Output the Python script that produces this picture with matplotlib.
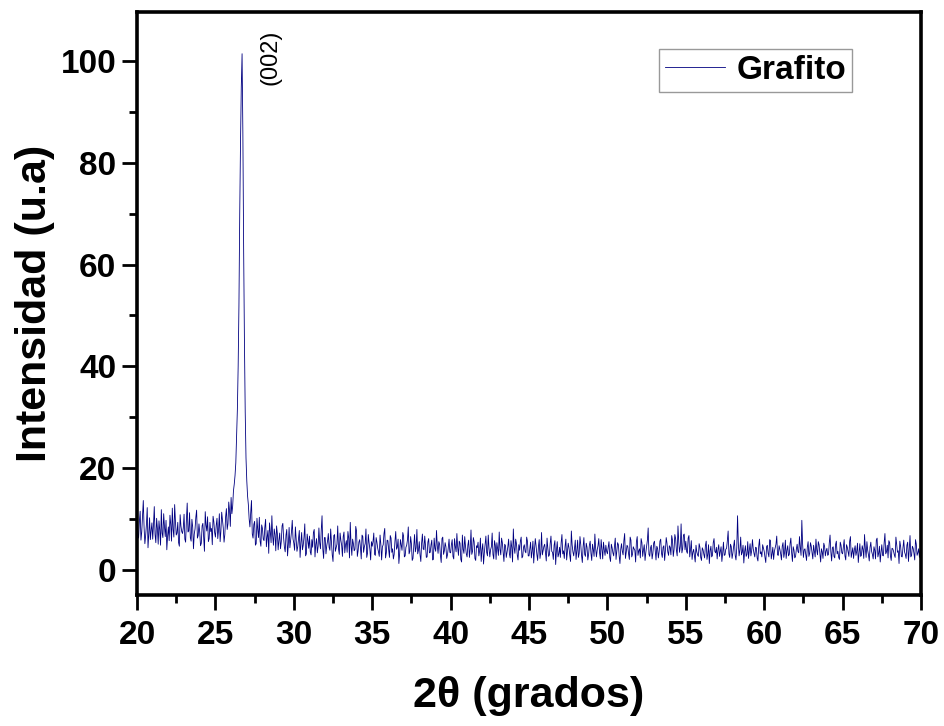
import numpy as np
import matplotlib
matplotlib.use("Agg")
import matplotlib.pyplot as plt
from matplotlib.ticker import MultipleLocator

plt.rcParams['font.family'] = ['Liberation Sans', 'DejaVu Sans']

# Diffractogram of graphite, scanned with a 0.05 deg step in 2-theta.
# "a" lists hold the readings at whole tenths (20.0, 20.1, ...),
# "b" lists the readings in between (20.05, 20.15, ...).
two_theta_start = 20.0
two_theta_step = 0.05

a_20_25 = [9.8, 6.2, 11.5, 7.4, 13.6, 5.1, 8.9, 4.3, 10.2, 7.7,
           6.0, 12.4, 5.3, 8.1, 9.6, 4.8, 7.2, 11.0, 6.5, 3.9,
           8.4, 10.7, 5.6, 7.9, 12.8, 6.8, 9.3, 4.6, 8.6, 7.1,
           10.9, 5.4, 13.1, 7.6, 6.3, 9.9, 4.1, 8.0, 11.7, 6.7,
           7.3, 5.2, 9.1, 3.6, 8.8, 10.4, 6.1, 7.5, 4.9, 9.4]
a_25_30 = [6.4, 10.1, 7.8, 5.5, 11.3, 8.2, 6.9, 12.0, 9.0, 11.6,
           14.2, 12.5, 16.8, 21.0, 31.5, 52.0, 84.0, 101.5, 63.0, 31.0,
           17.5, 12.8, 8.4, 13.6, 6.2, 9.5, 5.1, 7.8, 10.3, 4.6,
           8.1, 5.7, 9.9, 6.4, 3.2, 7.5, 10.6, 4.8, 6.9, 8.6,
           3.9, 7.2, 5.5, 9.1, 4.4, 6.8, 2.7, 8.3, 5.9, 9.7]
a_30_35 = [5.2, 8.4, 3.6, 6.1, 2.4, 7.3, 4.8, 9.0, 3.1, 5.7,
           6.6, 2.9, 4.4, 7.9, 5.0, 3.3, 8.2, 4.1, 10.6, 2.2,
           6.3, 4.7, 7.1, 3.8, 5.5, 1.6, 6.9, 4.3, 8.6, 3.0,
           5.8, 2.6, 7.4, 4.9, 3.4, 6.2, 9.3, 2.8, 5.1, 4.0,
           7.6, 3.7, 5.9, 2.1, 6.5, 4.5, 8.0, 3.2, 5.3, 1.9]
a_35_40 = [4.6, 7.2, 2.8, 5.4, 3.5, 6.8, 1.9, 4.9, 8.1, 3.3,
           5.7, 2.4, 6.2, 4.1, 3.0, 7.5, 4.4, 1.2, 5.9, 3.8,
           6.6, 2.7, 4.8, 8.4, 3.6, 5.1, 2.2, 6.9, 4.3, 3.1,
           5.5, 1.6, 7.0, 3.9, 4.7, 2.5, 6.1, 3.4, 5.8, 2.0,
           4.2, 7.7, 3.2, 5.0, 1.4, 6.4, 3.7, 4.5, 2.9, 6.0]
a_40_45 = [3.3, 5.9, 2.1, 4.6, 7.1, 2.8, 5.2, 1.5, 4.0, 6.5,
           3.1, 4.8, 2.4, 7.8, 3.6, 5.5, 1.8, 4.3, 2.7, 6.2,
           3.9, 1.1, 5.0, 3.4, 6.8, 2.5, 4.5, 3.0, 5.7, 2.0,
           4.1, 7.4, 2.9, 5.3, 1.6, 4.7, 3.5, 6.0, 2.3, 4.4,
           8.0, 3.2, 5.1, 1.9, 3.8, 6.4, 2.6, 4.9, 3.3, 5.6]
a_45_50 = [2.7, 5.4, 3.6, 1.3, 6.1, 3.0, 4.5, 2.2, 7.3, 3.8,
           5.0, 1.7, 4.2, 2.9, 6.6, 3.4, 4.8, 1.0, 5.5, 3.1,
           2.4, 6.9, 3.7, 4.6, 1.9, 5.2, 2.8, 7.6, 3.5, 4.1,
           2.0, 5.8, 3.2, 4.9, 1.4, 6.3, 2.6, 4.4, 3.0, 5.6,
           1.8, 4.0, 7.0, 2.5, 4.7, 3.3, 5.9, 2.1, 3.9, 4.8]
a_50_55 = [3.1, 5.5, 1.6, 4.3, 2.7, 6.2, 3.6, 4.9, 1.2, 5.1,
           2.9, 7.1, 3.4, 4.5, 2.0, 5.8, 3.0, 4.1, 1.5, 6.5,
           3.7, 2.3, 5.3, 3.9, 1.8, 4.6, 8.2, 2.6, 4.8, 3.2,
           5.6, 1.9, 4.2, 3.5, 6.0, 2.4, 4.7, 3.8, 5.2, 2.8,
           4.4, 6.7, 2.6, 6.9, 3.8, 8.6, 3.4, 9.0, 4.1, 7.0]
a_55_60 = [5.6, 3.2, 6.7, 3.9, 2.0, 4.0, 1.5, 3.5, 2.6, 4.4,
           1.8, 3.9, 2.3, 5.6, 3.0, 1.2, 4.6, 2.8, 6.1, 3.3,
           2.1, 4.9, 3.6, 1.6, 5.4, 2.9, 4.2, 7.6, 2.4, 4.5,
           3.2, 5.8, 1.9, 10.6, 2.7, 6.4, 3.4, 1.3, 4.7, 3.0,
           2.2, 5.1, 3.7, 4.1, 2.5, 4.3, 1.7, 6.0, 3.5, 4.9]
a_60_65 = [3.6, 1.4, 4.8, 2.5, 5.7, 3.1, 2.0, 4.3, 6.6, 2.8,
           4.0, 1.9, 5.3, 3.4, 2.2, 4.7, 3.0, 6.2, 1.6, 3.8,
           2.6, 5.0, 3.3, 4.4, 9.7, 2.4, 4.1, 1.8, 5.5, 3.2,
           4.6, 2.1, 3.7, 6.0, 2.9, 4.9, 1.5, 3.5, 5.2, 2.7,
           4.2, 3.0, 6.8, 1.7, 4.5, 2.3, 5.6, 3.6, 2.0, 4.8]
a_65_70 = [3.1, 5.9, 1.9, 4.4, 2.6, 6.5, 3.3, 2.2, 4.7, 3.6,
           1.4, 5.1, 2.8, 4.0, 6.9, 2.4, 3.8, 1.7, 5.4, 3.0,
           4.5, 2.1, 6.2, 3.2, 1.5, 4.9, 2.7, 7.1, 3.5, 2.3,
           5.3, 1.8, 4.1, 2.9, 6.4, 3.4, 1.2, 4.6, 2.5, 5.8,
           3.0, 4.8, 1.6, 6.7, 2.8, 4.2, 1.9, 5.0, 3.3, 2.4,
           3.7]

b_20_25 = [7.1, 9.4, 5.8, 10.6, 8.3, 6.7, 12.2, 7.0, 5.9, 9.2,
           8.8, 6.9, 10.1, 5.0, 7.8, 11.8, 6.3, 8.5, 9.7, 6.6,
           5.7, 8.9, 12.1, 6.4, 9.5, 7.2, 5.3, 10.8, 7.5, 8.2,
           6.0, 9.8, 7.4, 11.2, 5.6, 8.4, 7.0, 10.3, 6.2, 9.0,
           4.7, 8.6, 6.5, 11.4, 7.6, 5.5, 9.3, 8.1, 10.5, 7.3]
b_25_30 = [8.7, 6.1, 11.0, 7.6, 9.8, 5.4, 10.4, 7.9, 13.3, 8.5,
           11.0, 15.5, 18.5, 26.0, 40.0, 70.0, 95.0, 86.0, 45.0, 22.0,
           14.5, 10.0, 11.2, 7.0, 8.9, 4.8, 10.1, 6.3, 5.6, 8.8,
           6.0, 8.3, 4.5, 7.7, 9.2, 5.3, 6.6, 8.0, 3.7, 7.1,
           5.8, 4.1, 8.6, 6.2, 3.5, 7.9, 5.0, 4.3, 7.4, 6.0]
b_30_35 = [3.8, 6.0, 4.5, 7.7, 5.3, 3.9, 6.4, 2.7, 7.0, 4.2,
           3.5, 5.9, 7.3, 2.5, 6.1, 4.6, 5.2, 7.8, 4.0, 6.3,
           3.1, 5.6, 4.4, 8.0, 2.9, 6.7, 3.6, 5.0, 4.1, 7.2,
           4.8, 6.5, 3.3, 5.7, 7.5, 2.3, 4.9, 6.0, 3.7, 8.5,
           2.6, 5.4, 4.3, 6.8, 3.4, 5.1, 2.4, 6.9, 4.0, 5.5]
b_35_40 = [5.5, 3.0, 6.3, 4.2, 2.6, 5.0, 4.5, 7.1, 2.3, 5.8,
           3.9, 6.7, 3.4, 2.1, 5.6, 4.0, 6.0, 3.2, 4.8, 7.3,
           2.5, 4.4, 5.9, 3.1, 6.5, 1.8, 4.6, 3.5, 7.9, 3.8,
           2.9, 5.2, 4.1, 6.6, 2.4, 5.4, 3.3, 4.9, 1.9, 6.2,
           3.6, 4.7, 5.5, 2.8, 6.1, 3.0, 5.3, 2.2, 4.3, 3.4]
b_40_45 = [4.9, 2.6, 6.1, 3.5, 4.4, 5.6, 2.0, 6.8, 3.2, 4.6,
           2.5, 5.8, 4.1, 3.0, 6.3, 2.2, 4.7, 5.4, 3.7, 1.6,
           5.1, 3.3, 6.6, 2.7, 4.2, 3.9, 7.2, 2.1, 4.8, 5.3,
           2.8, 4.0, 6.2, 3.4, 5.0, 2.4, 4.5, 3.1, 5.7, 1.5,
           4.3, 6.0, 2.9, 4.9, 5.6, 2.3, 4.4, 3.6, 6.4, 2.7]
b_45_50 = [4.1, 2.3, 5.6, 3.9, 4.7, 1.8, 5.9, 3.3, 2.9, 4.6,
           3.4, 6.2, 2.6, 5.1, 3.6, 2.0, 5.7, 3.8, 2.5, 4.4,
           5.3, 3.1, 2.2, 6.0, 3.5, 4.3, 1.6, 4.9, 2.7, 5.8,
           3.7, 2.4, 6.5, 2.8, 4.5, 3.0, 5.2, 1.9, 4.8, 3.2,
           5.0, 2.6, 4.2, 3.9, 6.1, 2.1, 4.0, 5.4, 2.8, 3.6]
b_50_55 = [4.4, 2.4, 5.0, 3.3, 4.6, 2.0, 5.3, 2.7, 4.0, 3.6,
           5.7, 2.2, 4.8, 3.1, 6.4, 2.5, 4.5, 3.8, 5.5, 2.8,
           4.1, 6.1, 2.6, 4.9, 3.4, 5.8, 3.0, 4.3, 2.1, 5.2,
           3.7, 4.6, 2.3, 5.6, 3.2, 4.4, 1.8, 6.3, 3.5, 4.7,
           2.9, 5.8, 3.9, 6.1, 2.7, 5.5, 4.6, 3.3, 6.8, 3.9]
b_55_60 = [3.6, 6.2, 2.5, 5.7, 3.4, 2.7, 4.8, 2.9, 5.1, 2.4,
           4.3, 3.0, 4.7, 2.0, 4.9, 3.7, 2.5, 5.3, 3.6, 4.4,
           3.9, 2.6, 4.5, 3.2, 2.8, 4.0, 5.7, 3.1, 5.0, 2.2,
           4.6, 2.8, 4.3, 5.1, 3.9, 2.9, 4.8, 3.5, 2.6, 5.5,
           3.8, 2.7, 5.9, 3.2, 4.4, 2.3, 4.6, 3.1, 2.5, 4.2]
b_60_65 = [2.4, 4.5, 3.2, 5.9, 2.1, 4.4, 3.6, 5.0, 2.9, 4.7,
           3.1, 4.6, 2.4, 5.8, 3.8, 2.7, 5.1, 3.3, 4.5, 2.3,
           4.0, 3.6, 6.5, 2.8, 5.0, 3.9, 3.0, 4.4, 2.6, 5.3,
           3.4, 4.8, 2.5, 3.9, 5.5, 3.2, 4.1, 2.2, 4.6, 3.7,
           2.8, 5.2, 3.5, 4.3, 2.6, 4.9, 3.1, 2.4, 5.4, 3.3]
b_65_70 = [4.6, 2.7, 4.9, 3.5, 5.6, 2.4, 4.3, 3.9, 2.8, 5.2,
           3.3, 2.6, 4.7, 2.2, 4.1, 5.5, 2.9, 4.4, 3.6, 2.1,
           3.8, 5.8, 2.5, 4.6, 3.4, 2.8, 5.3, 3.1, 4.8, 5.7,
           2.7, 4.2, 3.6, 2.4, 4.9, 3.7, 5.6, 2.6, 4.3, 3.5,
           2.2, 5.4, 3.9, 2.5, 4.6, 3.2, 5.9, 2.8, 4.1, 3.8]

x_ticks = [20, 25, 30, 35, 40, 45, 50, 55, 60, 65, 70]
y_ticks = [0, 20, 40, 60, 80, 100]
series_label = "Grafito"
peak_label = "(002)"
peak_pos = (28.5, 100.8)

on_tenths = np.array(a_20_25 + a_25_30 + a_30_35 + a_35_40 + a_40_45
                     + a_45_50 + a_50_55 + a_55_60 + a_60_65 + a_65_70)
between = np.array(b_20_25 + b_25_30 + b_30_35 + b_35_40 + b_40_45
                   + b_45_50 + b_50_55 + b_55_60 + b_60_65 + b_65_70)
intensity = np.empty(on_tenths.size + between.size)
intensity[0::2] = on_tenths
intensity[1::2] = between
two_theta = two_theta_start + two_theta_step * np.arange(intensity.size)

fig = plt.figure(figsize=(9.45, 7.26), dpi=100)
ax = fig.add_axes([0.145, 0.1804, 0.8296, 0.803])

ax.plot(two_theta, intensity, color="#000080", lw=0.6, label=series_label)

ax.set_xlim(20, 70)
ax.set_ylim(-5, 109.7)
ax.set_xticks(x_ticks)
ax.set_yticks(y_ticks)
ax.xaxis.set_minor_locator(MultipleLocator(2.5))
ax.yaxis.set_minor_locator(MultipleLocator(10))

for side in ax.spines.values():
    side.set_linewidth(2.6)

ax.tick_params(which="both", direction="out", top=False, right=False, width=2.0)
ax.tick_params(which="major", length=11)
ax.tick_params(which="minor", length=6)
ax.tick_params(axis="x", which="major", pad=7)
ax.tick_params(axis="y", which="major", pad=4)
for lab in ax.get_xticklabels() + ax.get_yticklabels():
    lab.set_fontsize(24)
    lab.set_fontweight("bold")

ax.set_xlabel("2θ (grados)", fontsize=31, fontweight="bold", labelpad=18)
ax.set_ylabel("Intensidad (u.a)", fontsize=31, fontweight="bold", labelpad=4)

ax.text(peak_pos[0], peak_pos[1], peak_label, rotation=90, fontsize=17,
        ha="center", va="center")

leg = ax.legend(loc="upper right", bbox_to_anchor=(0.912, 0.9365),
                borderaxespad=0, fancybox=False, frameon=True,
                prop={"size": 24, "weight": "bold"}, handlelength=1.8,
                handletextpad=0.35, borderpad=0.18)
leg.get_frame().set_edgecolor("#808080")
leg.get_frame().set_linewidth(1.0)

fig.savefig("out.png", dpi=100)
